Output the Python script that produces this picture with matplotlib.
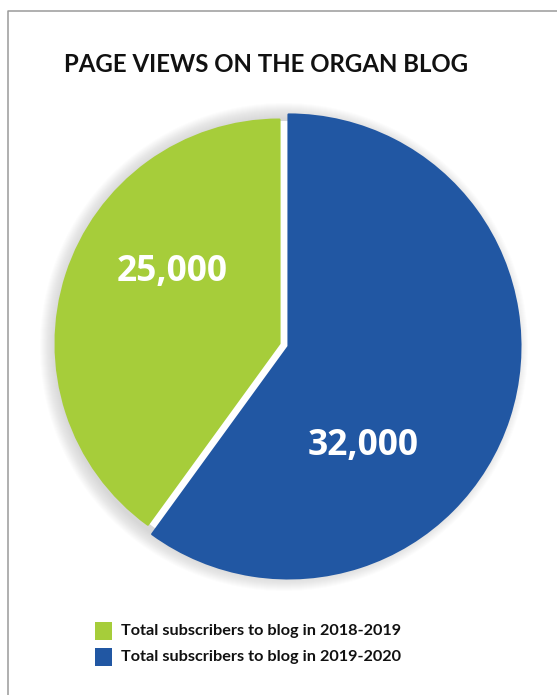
import matplotlib
matplotlib.use("Agg")
import matplotlib.pyplot as plt
from matplotlib.patches import Circle, Rectangle
from matplotlib.lines import Line2D

# data
series_labels = ["Total subscribers to blog in 2018-2019",
                 "Total subscribers to blog in 2019-2020"]
value_labels = ["25,000", "32,000"]
# share of the circle each slice takes in the drawing (percent)
slice_share = [40, 60]
colors = ["#A6CD3A", "#2157A3"]
title = "PAGE VIEWS ON THE ORGAN BLOG"

W, H = 557, 695
fig = plt.figure(figsize=(W / 100, H / 100), dpi=100)
ax = fig.add_axes([0, 0, 1, 1])
ax.set_xlim(0, W)
ax.set_ylim(0, H)
ax.axis("off")

# frame (left and top only visible)
ax.add_line(Line2D([8, 8, W + 5], [-5, H - 11, H - 11], color="#9a9a9a", lw=1.1))

cx, cy, r = 284, H - 345, 228

# soft shadow behind the pie, then a white disc so the gap stays white
for i in range(16):
    ax.add_patch(Circle((cx, cy - 2), r + 16 - i, color="#6a6a6a",
                        alpha=0.015, lw=0, zorder=1))
ax.add_patch(Circle((cx, cy), r - 4, color="white", lw=0, zorder=2))

gap = 4.7  # data units = pixels here
wedges, _ = ax.pie(slice_share, colors=colors, startangle=90, counterclock=True,
                   center=(cx, cy), radius=r, explode=[gap, gap],
                   wedgeprops=dict(linewidth=1.5, joinstyle="round"))
for w, c in zip(wedges, colors):
    w.set_edgecolor(c)
    w.set_zorder(3)
wedges[0].set_radius(224)
wedges[1].set_radius(232)
ax.set_xlim(0, W)
ax.set_ylim(0, H)
ax.set_aspect("auto")

ax.text(172, H - 272, value_labels[0], color="white", fontsize=25.5,
        family="Open Sans", weight="bold", ha="center", va="center", zorder=5)
ax.text(363, H - 446, value_labels[1], color="white", fontsize=25.5,
        family="Open Sans", weight="bold", ha="center", va="center", zorder=5)

ax.text(266, H - 65, title, color="#111111", fontsize=17.3, family="Lato",
        weight="bold", ha="center", va="center")

# legend
for i, (lab, c) in enumerate(zip(series_labels, colors)):
    y = H - 631 - 26 * i
    ax.add_patch(Rectangle((95, y - 9), 17, 18, color=c, lw=0))
    ax.text(121, y, lab, color="#111111", fontsize=11.7, family="Lato",
            weight="bold", ha="left", va="center")

fig.savefig("out.png", dpi=100)
